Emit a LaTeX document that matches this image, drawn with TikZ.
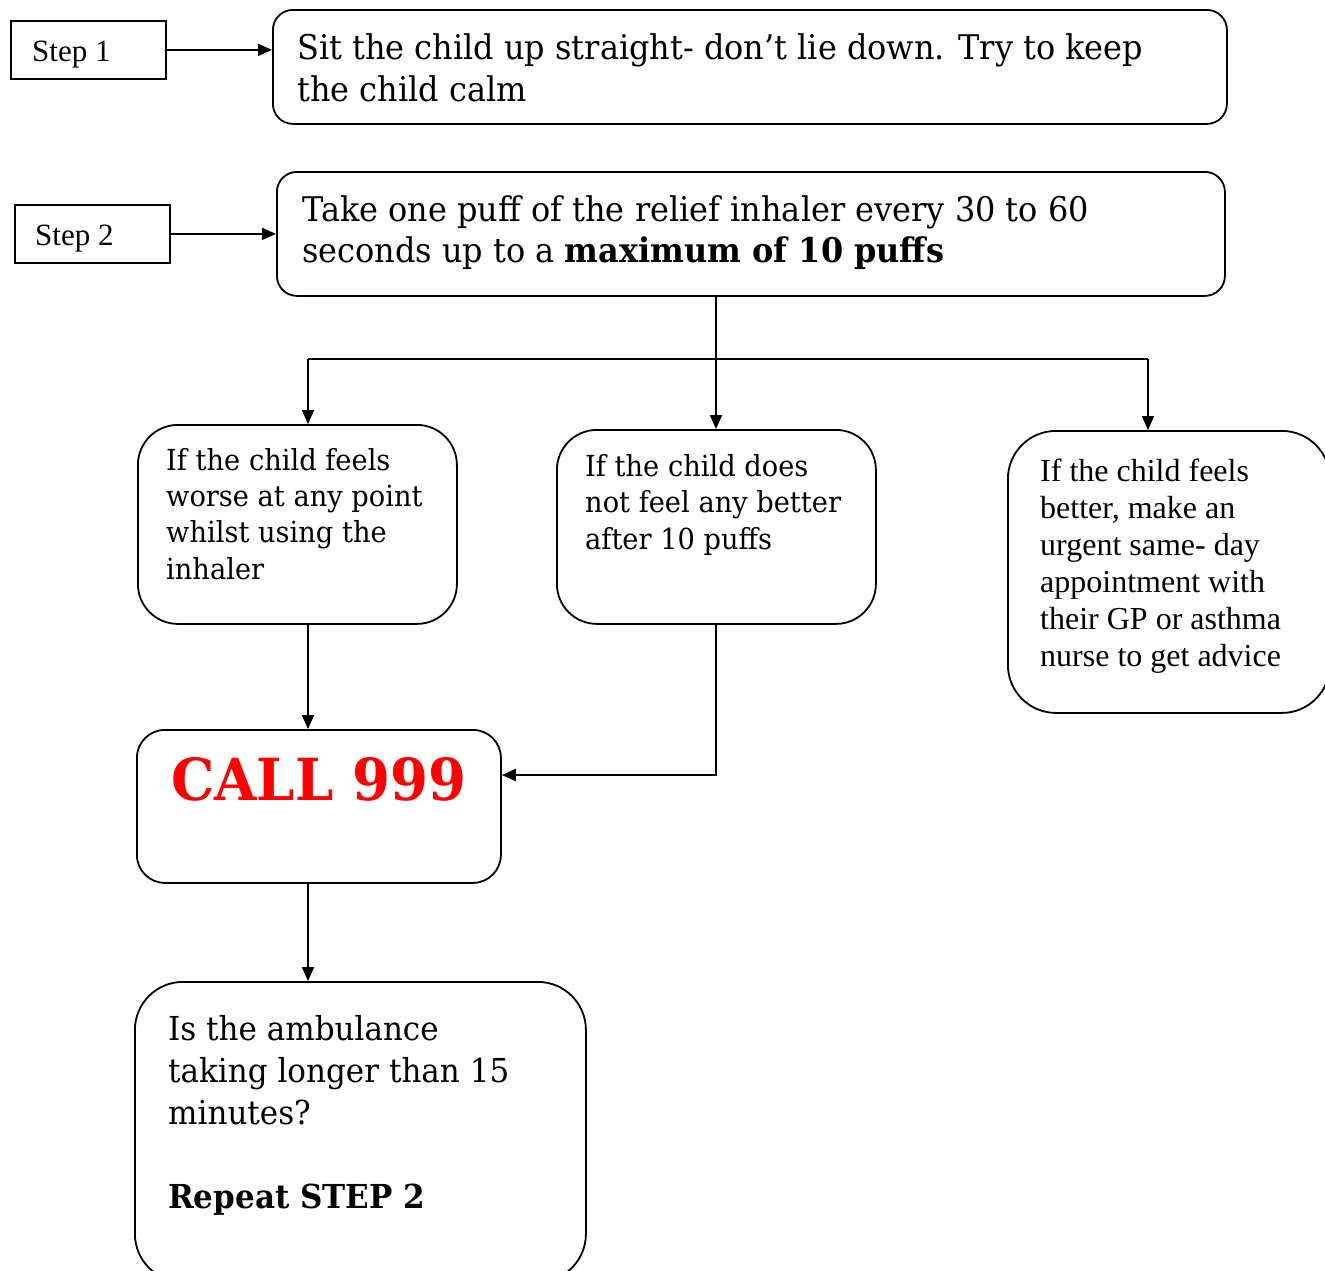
\documentclass[tikz,border=0pt]{standalone}
\usepackage{fontspec}
\setmainfont{DejaVu Serif}[FakeStretch=0.94]
\newfontfamily\timesf{Liberation Serif}
\usetikzlibrary{arrows.meta}
\definecolor{callred}{RGB}{255,0,0}
\tikzset{
  sqbox/.style={draw, line width=1.8pt, anchor=north west, inner sep=0pt},
  rbox/.style={draw, line width=1.8pt, rounded corners=#1, anchor=north west, inner sep=0pt},
  txt/.style={anchor=base west, align=left, inner sep=0pt},
  conn/.style={line width=1.8pt},
  arr/.style={line width=1.8pt, -{Triangle[length=14pt,width=12pt]}},
}
\begin{document}
\begin{tikzpicture}[x=1pt,y=-1pt]
\useasboundingbox (0,0) rectangle (1325,1270);
\clip (0,0) rectangle (1325,1270);
\fill[white] (0,0) rectangle (1325,1270);
% boxes
\node[sqbox, minimum width=155pt, minimum height=58pt] (s1) at (10,20) {};
\node[rbox=20pt, minimum width=954pt, minimum height=114pt] (b1) at (272,9) {};
\node[sqbox, minimum width=155pt, minimum height=58pt] (s2) at (14,204) {};
\node[rbox=20pt, minimum width=948pt, minimum height=124pt] (b2) at (276,171) {};
\node[rbox=40pt, minimum width=319pt, minimum height=199pt] (bA) at (137,424) {};
\node[rbox=40pt, minimum width=319pt, minimum height=194pt] (bB) at (556,429) {};
\node[rbox=48pt, minimum width=322pt, minimum height=282pt] (bC) at (1007,430) {};
\node[rbox=28pt, minimum width=364pt, minimum height=153pt] (call) at (136,729) {};
\node[rbox=48pt, minimum width=451pt, minimum height=300pt] (last) at (134,981) {};
% texts (anchor = baseline of the last line)
\node[txt, font=\timesf\fontsize{31}{34}\selectfont] (t1) at (32,61) {Step 1};
\node[txt, font=\timesf\fontsize{31}{34}\selectfont] (t2) at (35,245) {Step 2};
\node[txt, font=\fontsize{34}{42}\selectfont] (tb1) at (297,101) {Sit the child up straight- don’t lie down. Try to keep\\the child calm};
\node[txt, font=\fontsize{34}{41}\selectfont] (tb2) at (302,262) {Take one puff of the relief inhaler every 30 to 60\\seconds up to a \textbf{maximum of 10 puffs}};
\node[txt, font=\fontsize{29}{36.3}\selectfont] (tA) at (166,579) {If the child feels\\worse at any point\\whilst using the\\inhaler};
\node[txt, font=\fontsize{29}{36.3}\selectfont] (tB) at (585,549) {If the child does\\not feel any better\\after 10 puffs};
\node[txt, font=\timesf\fontsize{32}{37}\selectfont] (tC) at (1040,666) {If the child feels\\better, make an\\urgent same- day\\appointment with\\their GP or asthma\\nurse to get advice};
\node[txt, font=\bfseries\fontsize{58}{64}\selectfont, text=callred] (tcall) at (171,800) {CALL 999};
\node[txt, font=\fontsize{33}{42}\selectfont] (tlast) at (168,1208) {Is the ambulance\\taking longer than 15\\minutes?\\[42pt]\textbf{Repeat STEP 2}};
% connectors
\coordinate (split) at (716,359);
\coordinate (L) at (308,359);
\coordinate (R) at (1148,359);
\coordinate (bend) at (716,775);
\draw[arr] (s1.east) -- (s1.east -| b1.west);
\draw[arr] (s2.east) -- (s2.east -| b2.west);
\draw[conn] (b2.south -| split) -- (split);
\draw[conn] (L) -- (R);
\draw[arr] (L) -- (L |- bA.north);
\draw[arr] (split) -- (split |- bB.north);
\draw[arr] (R) -- (R |- bC.north);
\draw[arr] (L |- bA.south) -- (L |- call.north);
\draw[arr] (split |- bB.south) -- (bend) -- (bend -| call.east);
\draw[arr] (L |- call.south) -- (L |- last.north);
\end{tikzpicture}
\end{document}
